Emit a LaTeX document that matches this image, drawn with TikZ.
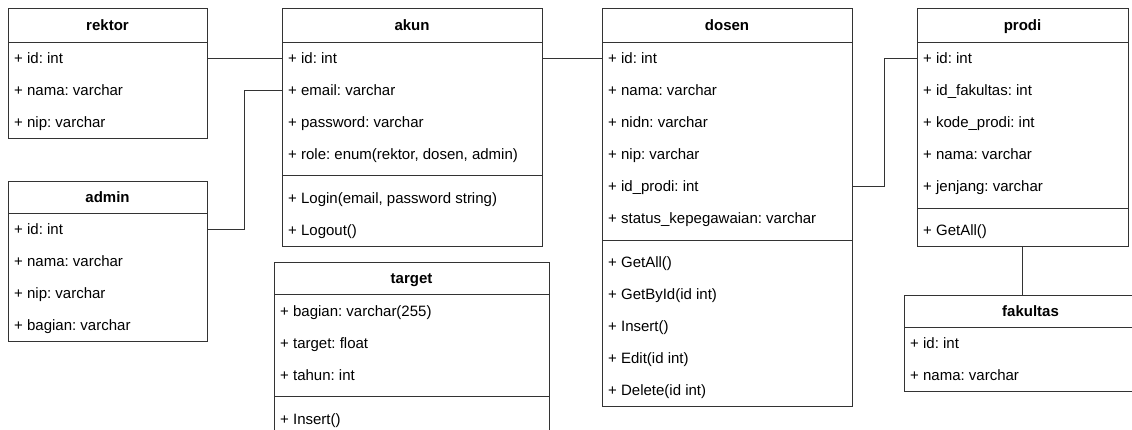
\documentclass[tikz,border=0pt]{standalone}
\usepackage{fontspec}
\setmainfont{Liberation Sans}
\frenchspacing
\newcommand{\dfont}{\fontsize{15pt}{18pt}\selectfont}
\definecolor{linec}{HTML}{333333}
\tikzset{
  ln/.style={draw=linec, line width=1pt},
  cls/.style={ln, fill=white, inner sep=0pt, outer sep=0pt, anchor=north west},
  ttl/.style={font=\dfont\bfseries, inner sep=0pt, text height=12pt, text depth=1pt},
  row/.style={font=\dfont, anchor=west, inner sep=0pt, text height=12pt, text depth=1pt},
}
\begin{document}
\begin{tikzpicture}[x=1pt, y=-1pt]
\useasboundingbox (0,0) rectangle (1132,429);
\clip (0,0) rectangle (1132,429);

% ---------- rektor ----------
\node[cls, minimum width=199pt, minimum height=130pt] (rektor) at (8,8) {};
\draw[ln] (rektor.west |- 0,42) -- (rektor.east |- 0,42);
\node[ttl] (rektor-t) at (rektor.north |- 0,25) {rektor};
\node[row] (rektor-id)   at (14,58)  {+ id: int};
\node[row] (rektor-nama) at (14,90)  {+ nama: varchar};
\node[row] (rektor-nip)  at (14,122) {+ nip: varchar};

% ---------- admin ----------
\node[cls, minimum width=199pt, minimum height=160pt] (admin) at (8,181) {};
\draw[ln] (admin.west |- 0,213) -- (admin.east |- 0,213);
\node[ttl] (admin-t) at (admin.north |- 0,197) {admin};
\node[row] (admin-id)     at (14,229) {+ id: int};
\node[row] (admin-nama)   at (14,261) {+ nama: varchar};
\node[row] (admin-nip)    at (14,293) {+ nip: varchar};
\node[row] (admin-bagian) at (14,325) {+ bagian: varchar};

% ---------- akun ----------
\node[cls, minimum width=260pt, minimum height=238pt] (akun) at (282,8) {};
\draw[ln] (akun.west |- 0,42) -- (akun.east |- 0,42);
\draw[ln] (akun.west |- 0,175) -- (akun.east |- 0,175);
\node[ttl] (akun-t) at (akun.north |- 0,25) {akun};
\node[row] (akun-id)     at (288,58)  {+ id: int};
\node[row] (akun-email)  at (288,90)  {+ email: varchar};
\node[row] (akun-pass)   at (288,122) {+ password: varchar};
\node[row] (akun-role)   at (288,154) {+ role: enum(rektor, dosen, admin)};
\node[row] (akun-login)  at (288,198) {+ Login(email, password string)};
\node[row] (akun-logout) at (288,230) {+ Logout()};

% ---------- target ----------
\node[cls, minimum width=275pt, minimum height=180pt] (target) at (274,262) {};
\draw[ln] (target.west |- 0,294) -- (target.east |- 0,294);
\draw[ln] (target.west |- 0,396) -- (target.east |- 0,396);
\node[ttl] (target-t) at (target.north |- 0,278) {target};
\node[row] (target-bagian) at (280,311) {+ bagian: varchar(255)};
\node[row] (target-target) at (280,343) {+ target: float};
\node[row] (target-tahun)  at (280,375) {+ tahun: int};
\node[row] (target-insert) at (280,419) {+ Insert()};

% ---------- dosen ----------
\node[cls, minimum width=250pt, minimum height=398pt] (dosen) at (602,8) {};
\draw[ln] (dosen.west |- 0,42) -- (dosen.east |- 0,42);
\draw[ln] (dosen.west |- 0,240) -- (dosen.east |- 0,240);
\node[ttl] (dosen-t) at (dosen.north |- 0,25) {dosen};
\node[row] (dosen-id)     at (608,58)  {+ id: int};
\node[row] (dosen-nama)   at (608,90)  {+ nama: varchar};
\node[row] (dosen-nidn)   at (608,122) {+ nidn: varchar};
\node[row] (dosen-nip)    at (608,154) {+ nip: varchar};
\node[row] (dosen-prodi)  at (608,186) {+ id\_prodi: int};
\node[row] (dosen-status) at (608,218) {+ status\_kepegawaian: varchar};
\node[row] (dosen-getall) at (608,262) {+ GetAll()};
\node[row] (dosen-getby)  at (608,294) {+ GetById(id int)};
\node[row] (dosen-insert) at (608,326) {+ Insert()};
\node[row] (dosen-edit)   at (608,358) {+ Edit(id int)};
\node[row] (dosen-delete) at (608,390) {+ Delete(id int)};

% ---------- prodi ----------
\node[cls, minimum width=211pt, minimum height=238pt] (prodi) at (917,8) {};
\draw[ln] (prodi.west |- 0,42) -- (prodi.east |- 0,42);
\draw[ln] (prodi.west |- 0,208) -- (prodi.east |- 0,208);
\node[ttl] (prodi-t) at (prodi.north |- 0,25) {prodi};
\node[row] (prodi-id)      at (923,58)  {+ id: int};
\node[row] (prodi-fak)     at (923,90)  {+ id\_fakultas: int};
\node[row] (prodi-kode)    at (923,122) {+ kode\_prodi: int};
\node[row] (prodi-nama)    at (923,154) {+ nama: varchar};
\node[row] (prodi-jenjang) at (923,186) {+ jenjang: varchar};
\node[row] (prodi-getall)  at (923,230) {+ GetAll()};

% ---------- fakultas ----------
\node[cls, minimum width=253pt, minimum height=96pt] (fakultas) at (904,295) {};
\draw[ln] (fakultas.west |- 0,327) -- (fakultas.east |- 0,327);
\node[ttl] (fakultas-t) at (fakultas.north |- 0,311) {fakultas};
\node[row] (fakultas-id)   at (910,343) {+ id: int};
\node[row] (fakultas-nama) at (910,375) {+ nama: varchar};

% ---------- connectors ----------
\draw[ln] (rektor.east |- rektor-id.west) -- (akun.west |- rektor-id.west);
\draw[ln] (admin.east |- admin-id.west) -- ++(37,0) |- (akun.west |- akun-email.west);
\draw[ln] (akun.east |- akun-id.west) -- (dosen.west |- akun-id.west);
\draw[ln] (dosen.east |- dosen-prodi.west) -- ++(32,0) |- (prodi.west |- prodi-id.west);
\draw[ln] (prodi.south) -- (fakultas.north -| prodi.south);
\end{tikzpicture}
\end{document}
